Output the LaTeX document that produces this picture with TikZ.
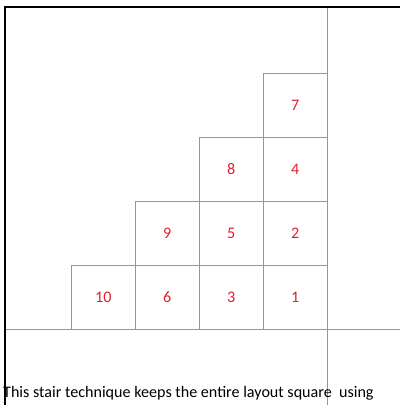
\documentclass[tikz,border=0pt]{standalone}
\usepackage{fontspec}
\setmainfont{Carlito}
\usetikzlibrary{positioning}
\definecolor{numred}{RGB}{222,32,42}
\definecolor{gridgray}{RGB}{150,150,150}

\begin{document}
\begin{tikzpicture}[
  every node/.style={font=\fontsize{16.1}{19}\selectfont},
  cell/.style={rectangle,draw=gridgray,line width=0.8pt,minimum size=64pt,inner sep=0pt,text=numred},
  guide/.style={draw=gridgray,line width=0.8pt},
  frame/.style={draw=black,line width=2.2pt},
  x=1pt,y=1pt]

\useasboundingbox (0,0) rectangle (400,405);

% ---- the stair of cells ----
\foreach \n/\x/\y in {1/295.3/107.7, 2/295.3/171.7, 4/295.3/235.7, 7/295.3/299.7,
                      3/231.3/107.7, 5/231.3/171.7, 8/231.3/235.7,
                      6/167.3/107.7, 9/167.3/171.7,
                      10/103.3/107.7}
  \node[cell] (c\n) at (\x,\y) {\n};

% ---- page guides ----
\draw[guide] (327.3,398) -- (327.3,0);
\draw[guide] (5,75.7) -- (400,75.7);
\draw[frame] (5,0) |- (400,398);

% ---- caption ----
\node[anchor=base west,inner sep=0pt] (cap) at (3,8)
  {This stair technique keeps the entire layout square\ \ using};
\end{tikzpicture}
\end{document}
